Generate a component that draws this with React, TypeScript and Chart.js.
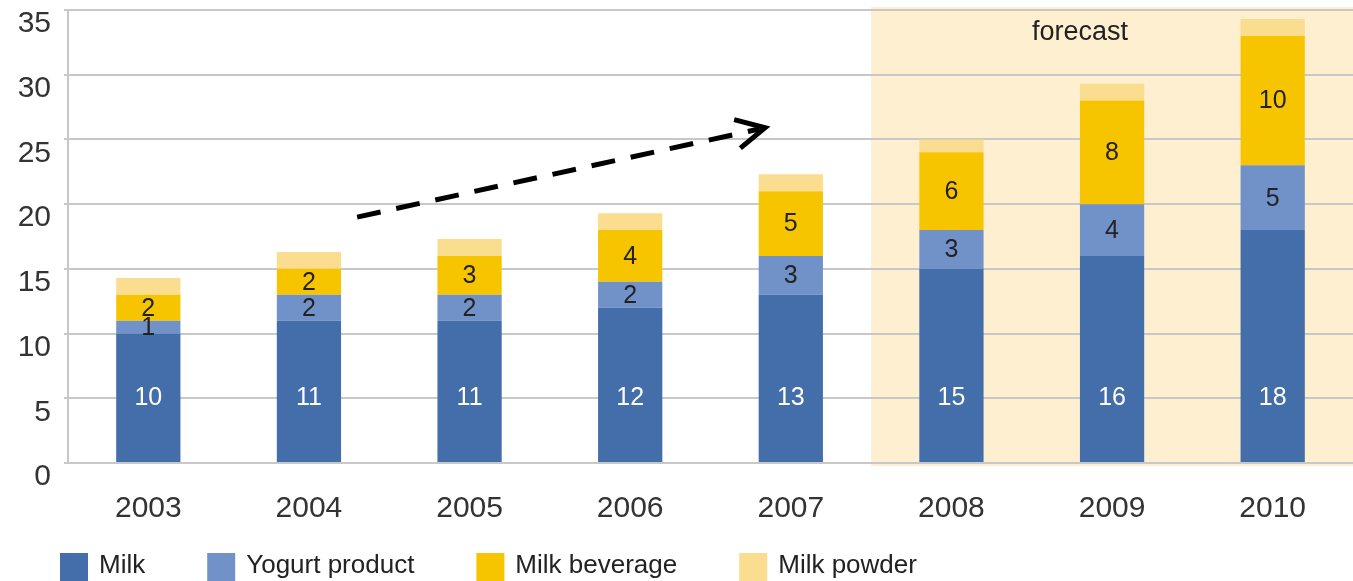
import { useEffect, useRef } from "react";
import { Chart, registerables } from "chart.js";

Chart.register(...registerables);

const years = ["2003", "2004", "2005", "2006", "2007", "2008", "2009", "2010"];
const milk = [10, 11, 11, 12, 13, 15, 16, 18];
const yogurt = [1, 2, 2, 2, 3, 3, 4, 5];
const beverage = [2, 2, 3, 4, 5, 6, 8, 10];
const powder = [1.3, 1.3, 1.3, 1.3, 1.3, 1.0, 1.3, 1.3];
const seriesNames = ["Milk", "Yogurt product", "Milk beverage", "Milk powder"];
const seriesColors = ["#436eaa", "#7092c8", "#f7c500", "#fbdd8f"];
const labelColors = ["#ffffff", "#222222", "#222222"];
const yMin = 0;
const yMax = 35;
const yStep = 5;
const forecastStartIndex = 5;
const forecastText = "forecast";
const forecastTextAt = 5.8;
const milkLabelValue = 5;
const arrowFrom = { x: 1.3, y: 19.0 };
const arrowTo = { x: 3.84, y: 25.9 };

const FONT = "'Liberation Sans', Arial, Helvetica, sans-serif";

const forecastPlugin = {
  id: "forecastBg",
  beforeDraw(chart: any) {
    const { ctx, chartArea, scales } = chart;
    const xs = scales.x;
    const left = xs.getPixelForValue(forecastStartIndex - 0.5);
    ctx.save();
    ctx.fillStyle = "#fdefcf";
    ctx.fillRect(left, chartArea.top - 3, chart.width - left, chartArea.bottom - chartArea.top + 6);
    ctx.restore();
  },
};

const labelsPlugin = {
  id: "segLabels",
  afterDatasetsDraw(chart: any) {
    const { ctx, scales, chartArea } = chart;
    ctx.save();
    ctx.font = `25px ${FONT}`;
    ctx.textAlign = "center";
    ctx.textBaseline = "middle";
    for (let d = 0; d < 3; d++) {
      const meta = chart.getDatasetMeta(d);
      meta.data.forEach((el: any, i: number) => {
        const v = chart.data.datasets[d].data[i];
        const y = d === 0 ? scales.y.getPixelForValue(milkLabelValue) : (el.y + el.base) / 2 + 1;
        ctx.fillStyle = labelColors[d];
        ctx.fillText(String(v), el.x, y);
      });
    }
    // forecast label
    ctx.fillStyle = "#222";
    ctx.font = `27px ${FONT}`;
    ctx.fillText(forecastText, scales.x.getPixelForValue(forecastTextAt), chartArea.top + 23);

    // dashed arrow
    const x1 = scales.x.getPixelForValue(arrowFrom.x);
    const y1 = scales.y.getPixelForValue(arrowFrom.y);
    const x2 = scales.x.getPixelForValue(arrowTo.x);
    const y2 = scales.y.getPixelForValue(arrowTo.y);
    const ang = Math.atan2(y2 - y1, x2 - x1);
    ctx.strokeStyle = "#000";
    ctx.lineWidth = 5;
    ctx.lineCap = "butt";
    ctx.setLineDash([24, 16]);
    ctx.beginPath();
    ctx.moveTo(x1, y1);
    ctx.lineTo(x2 - 6 * Math.cos(ang), y2 - 6 * Math.sin(ang));
    ctx.stroke();
    ctx.setLineDash([]);
    const len = 32;
    const spread = (27 * Math.PI) / 180;
    ctx.lineJoin = "miter";
    ctx.beginPath();
    ctx.moveTo(x2 - len * Math.cos(ang - spread), y2 - len * Math.sin(ang - spread));
    ctx.lineTo(x2, y2);
    ctx.lineTo(x2 - len * Math.cos(ang + spread), y2 - len * Math.sin(ang + spread));
    ctx.stroke();
    ctx.restore();
  },
};

const legendPlugin = {
  id: "customLegend",
  afterDraw(chart: any) {
    const { ctx } = chart;
    ctx.save();
    ctx.font = `26px ${FONT}`;
    ctx.textAlign = "left";
    ctx.textBaseline = "alphabetic";
    let x = 60;
    const top = 553;
    seriesNames.forEach((name, i) => {
      ctx.fillStyle = seriesColors[i];
      ctx.fillRect(x, top, 28, 28);
      ctx.fillStyle = "#222";
      ctx.fillText(name, x + 39, top + 20);
      x += 39 + ctx.measureText(name).width + 62;
    });
    ctx.restore();
  },
};

export default function App() {
  const ref = useRef<HTMLCanvasElement>(null);

  useEffect(() => {
    document.body.style.margin = "0";
    const canvas = ref.current;
    if (!canvas) return;
    const datasets = [milk, yogurt, beverage, powder].map((data, i) => ({
      label: seriesNames[i],
      data,
      backgroundColor: seriesColors[i],
      borderWidth: 0,
      barPercentage: 1,
      categoryPercentage: 0.4,
      stack: "s",
    }));
    const chart = new Chart(canvas, {
      type: "bar",
      data: { labels: years, datasets },
      options: {
        animation: false,
        responsive: false,
        maintainAspectRatio: false,
        layout: { padding: { top: 10, right: -3, left: 0, bottom: 0 } },
        plugins: { legend: { display: false }, tooltip: { enabled: false } },
        scales: {
          x: {
            stacked: true,
            grid: { display: false },
            border: { display: false },
            ticks: { font: { family: FONT, size: 30 }, color: "#333", padding: 20 },
            afterFit: (s: any) => {
              s.height = 118;
              s.paddingLeft = 0;
              s.paddingRight = 0;
            },
          },
          y: {
            stacked: true,
            min: yMin,
            max: yMax,
            ticks: {
              stepSize: yStep,
              font: { family: FONT, size: 30 },
              color: "#333",
              padding: 13,
              labelOffset: 14,
            },
            grid: { color: "#c8c8c8", lineWidth: 2, tickLength: 4 },
            border: { color: "#c8c8c8", width: 2 },
            afterFit: (s: any) => {
              s.width = 68;
              s.paddingTop = 0;
              s.paddingBottom = 0;
            },
          },
        },
      },
      plugins: [forecastPlugin, labelsPlugin, legendPlugin],
    });
    return () => chart.destroy();
  }, []);

  return (
    <div style={{ width: 1353, height: 581 }}>
      <canvas ref={ref} width={1353} height={581} style={{ display: "block" }} />
    </div>
  );
}
